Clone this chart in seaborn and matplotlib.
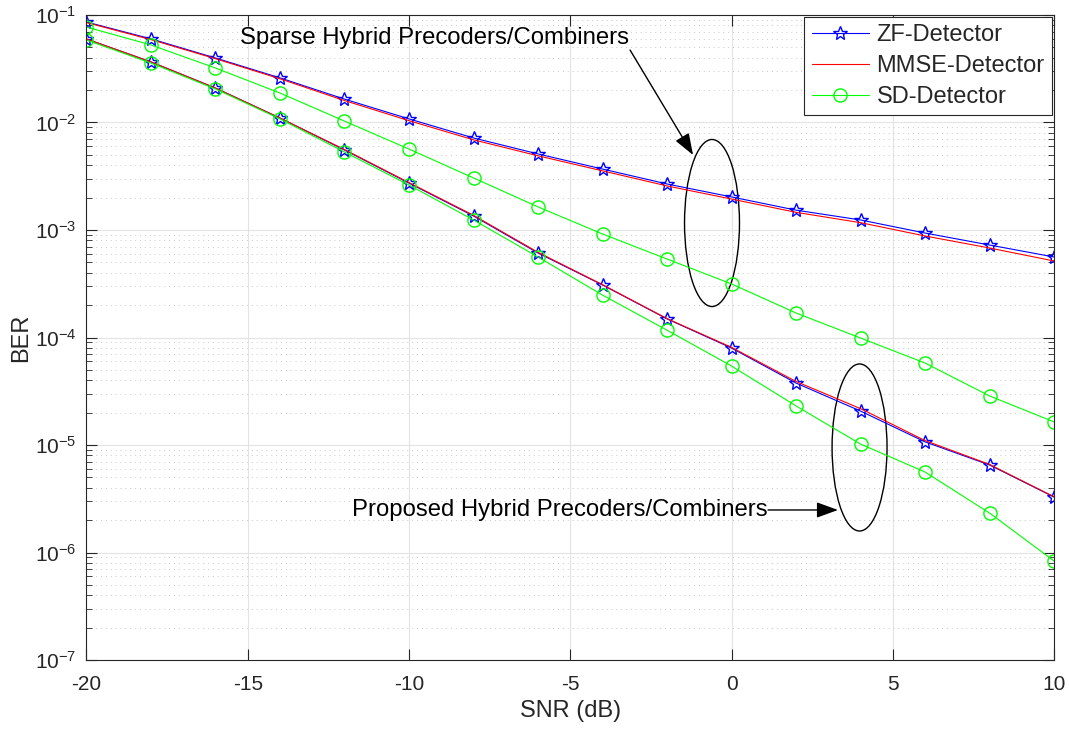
import numpy as np
import pandas as pd
import matplotlib
matplotlib.use("Agg")
import matplotlib.pyplot as plt
import seaborn as sns
from matplotlib.patches import Ellipse
from matplotlib.ticker import LogLocator, FixedLocator, NullFormatter

# ---------------- data ----------------
snr_db = [-20, -18, -16, -14, -12, -10, -8, -6, -4, -2, 0, 2, 4, 6, 8, 10]

zf_sparse = [0.086, 0.060, 0.0398, 0.0260, 0.0165, 0.0108, 0.00718, 0.00510, 0.00369,
             0.00268, 0.00203, 0.00153, 0.00124, 0.000937, 0.000725, 0.000561]
mmse_sparse = [0.085, 0.059, 0.0392, 0.0255, 0.0160, 0.0104, 0.0069, 0.0049, 0.00355,
               0.00257, 0.00194, 0.00146, 0.00117, 0.00088, 0.00068, 0.000515]
sd_sparse = [0.0773, 0.0526, 0.0321, 0.0188, 0.0103, 0.00566, 0.00305, 0.00164, 0.000918,
             0.000537, 0.000315, 0.000169, 0.0000989, 0.0000579, 0.0000286, 0.0000164]

zf_prop = [0.0598, 0.0366, 0.0209, 0.0110, 0.00555, 0.00273, 0.00135, 0.000611, 0.000308,
           0.000149, 0.0000798, 0.0000377, 0.0000207, 0.0000107, 0.00000652, 0.00000328]
mmse_prop = [0.0598, 0.0366, 0.0209, 0.0110, 0.00560, 0.00276, 0.00137, 0.000620, 0.000310,
             0.000150, 0.0000810, 0.0000390, 0.0000218, 0.0000110, 0.0000066, 0.0000033]
sd_prop = [0.0585, 0.0357, 0.0205, 0.0108, 0.00532, 0.00262, 0.00124, 0.000561, 0.000248,
           0.000117, 0.0000543, 0.0000231, 0.0000102, 0.00000561, 0.00000233, 0.000000834]

legend_labels = ["ZF-Detector", "MMSE-Detector", "SD-Detector"]
x_ticks = [-20, -15, -10, -5, 0, 5, 10]
x_label = "SNR (dB)"
y_label = "BER"
note_sparse = "Sparse Hybrid Precoders/Combiners"
note_prop = "Proposed Hybrid Precoders/Combiners"

# ---------------- style ----------------
sns.set_theme(style="white")
plt.rcParams["font.family"] = ["Liberation Sans", "DejaVu Sans"]
plt.rcParams["mathtext.fontset"] = "custom"
plt.rcParams["mathtext.rm"] = "Liberation Sans"
plt.rcParams["mathtext.it"] = "Liberation Sans:italic"
plt.rcParams["mathtext.bf"] = "Liberation Sans:bold"
plt.rcParams["axes.unicode_minus"] = False

fig = plt.figure(figsize=(10.69, 7.31), dpi=100)
ax = fig.add_axes([0.0809, 0.0971, 0.9051, 0.8824])

styles = {
    "ZF": dict(color=(0, 0, 1), marker="*", markersize=10.5, markerfacecolor="none",
               markeredgecolor=(0, 0, 1), markeredgewidth=1.0),
    "MMSE": dict(color=(1, 0, 0)),
    "SD": dict(color=(0, 1, 0), marker="o", markersize=9.5, markerfacecolor="none",
               markeredgecolor=(0, 1, 0), markeredgewidth=1.0),
}

series = [
    ("ZF", zf_sparse, legend_labels[0]),
    ("MMSE", mmse_sparse, legend_labels[1]),
    ("SD", sd_sparse, legend_labels[2]),
    ("ZF", zf_prop, None),
    ("MMSE", mmse_prop, None),
    ("SD", sd_prop, None),
]

handles = []
for key, vals, lab in series:
    df = pd.DataFrame({"snr": snr_db, "ber": vals})
    sns.lineplot(data=df, x="snr", y="ber", ax=ax, linewidth=0.8, legend=False,
                 **styles[key])
    if lab is not None:
        handles.append((ax.lines[-1], lab))

ax.set_yscale("log")
ax.set_xlim(-20, 10)
ax.set_ylim(1e-7, 1e-1)
ax.xaxis.set_major_locator(FixedLocator(x_ticks))
ax.yaxis.set_major_locator(LogLocator(base=10, numticks=20))
ax.yaxis.set_minor_locator(LogLocator(base=10, subs=np.arange(2, 10), numticks=20))
ax.yaxis.set_minor_formatter(NullFormatter())

# grid (MATLAB-like)
ax.grid(True, which="major", axis="both", color="#e3e3e3", linewidth=0.8, linestyle="-")
ax.grid(True, which="minor", axis="y", color="#c8c8c8", linewidth=0.7, linestyle=(0, (1, 4)))
ax.set_axisbelow(True)

for sp in ax.spines.values():
    sp.set_color("#262626")
    sp.set_linewidth(0.8)
    sp.set_visible(True)

ax.tick_params(axis="both", which="major", direction="in", length=8, width=0.8,
               color="#262626", labelsize=15, labelcolor="#262626",
               top=True, right=True, bottom=True, left=True)
ax.tick_params(axis="x", which="major", pad=11)
ax.tick_params(axis="y", which="major", pad=7)
ax.tick_params(axis="y", which="minor", direction="in", length=4, width=0.6,
               color="#262626", left=True, right=True)

ax.set_xlabel(x_label, fontsize=17, color="#262626", labelpad=4)
ax.set_ylabel(y_label, fontsize=17, color="#262626", labelpad=2)

leg = ax.legend([h for h, _ in handles], [l for _, l in handles], loc="upper right",
                fontsize=17, frameon=True, fancybox=False, framealpha=1,
                edgecolor="#262626", borderpad=0.3, handlelength=2.45,
                handletextpad=0.3, labelspacing=0.38, borderaxespad=0.1)
leg.get_frame().set_linewidth(0.8)

# annotations
ax.add_patch(Ellipse((0.6465, 0.6775), 0.0568, 0.259, transform=ax.transAxes,
                     fill=False, edgecolor="black", linewidth=1.0))
ax.add_patch(Ellipse((0.799, 0.3295), 0.0568, 0.259, transform=ax.transAxes,
                     fill=False, edgecolor="black", linewidth=1.0))

ax.text(0.1587, 0.9643, note_sparse, transform=ax.transAxes, fontsize=17.2,
        color="black", ha="left", va="center")
ax.annotate("", xy=(0.6269, 0.783), xytext=(0.5618, 0.9457),
            xycoords="axes fraction", textcoords="axes fraction",
            arrowprops=dict(arrowstyle="-|>,head_length=1.1,head_width=0.4",
                            color="black", linewidth=1.0, shrinkA=0, shrinkB=0))

ax.text(0.274, 0.2326, note_prop, transform=ax.transAxes, fontsize=17.2,
        color="black", ha="left", va="center")
ax.annotate("", xy=(0.7767, 0.2326), xytext=(0.7044, 0.2326),
            xycoords="axes fraction", textcoords="axes fraction",
            arrowprops=dict(arrowstyle="-|>,head_length=1.1,head_width=0.4",
                            color="black", linewidth=1.0, shrinkA=0, shrinkB=0))

fig.savefig("out.png", dpi=100)
